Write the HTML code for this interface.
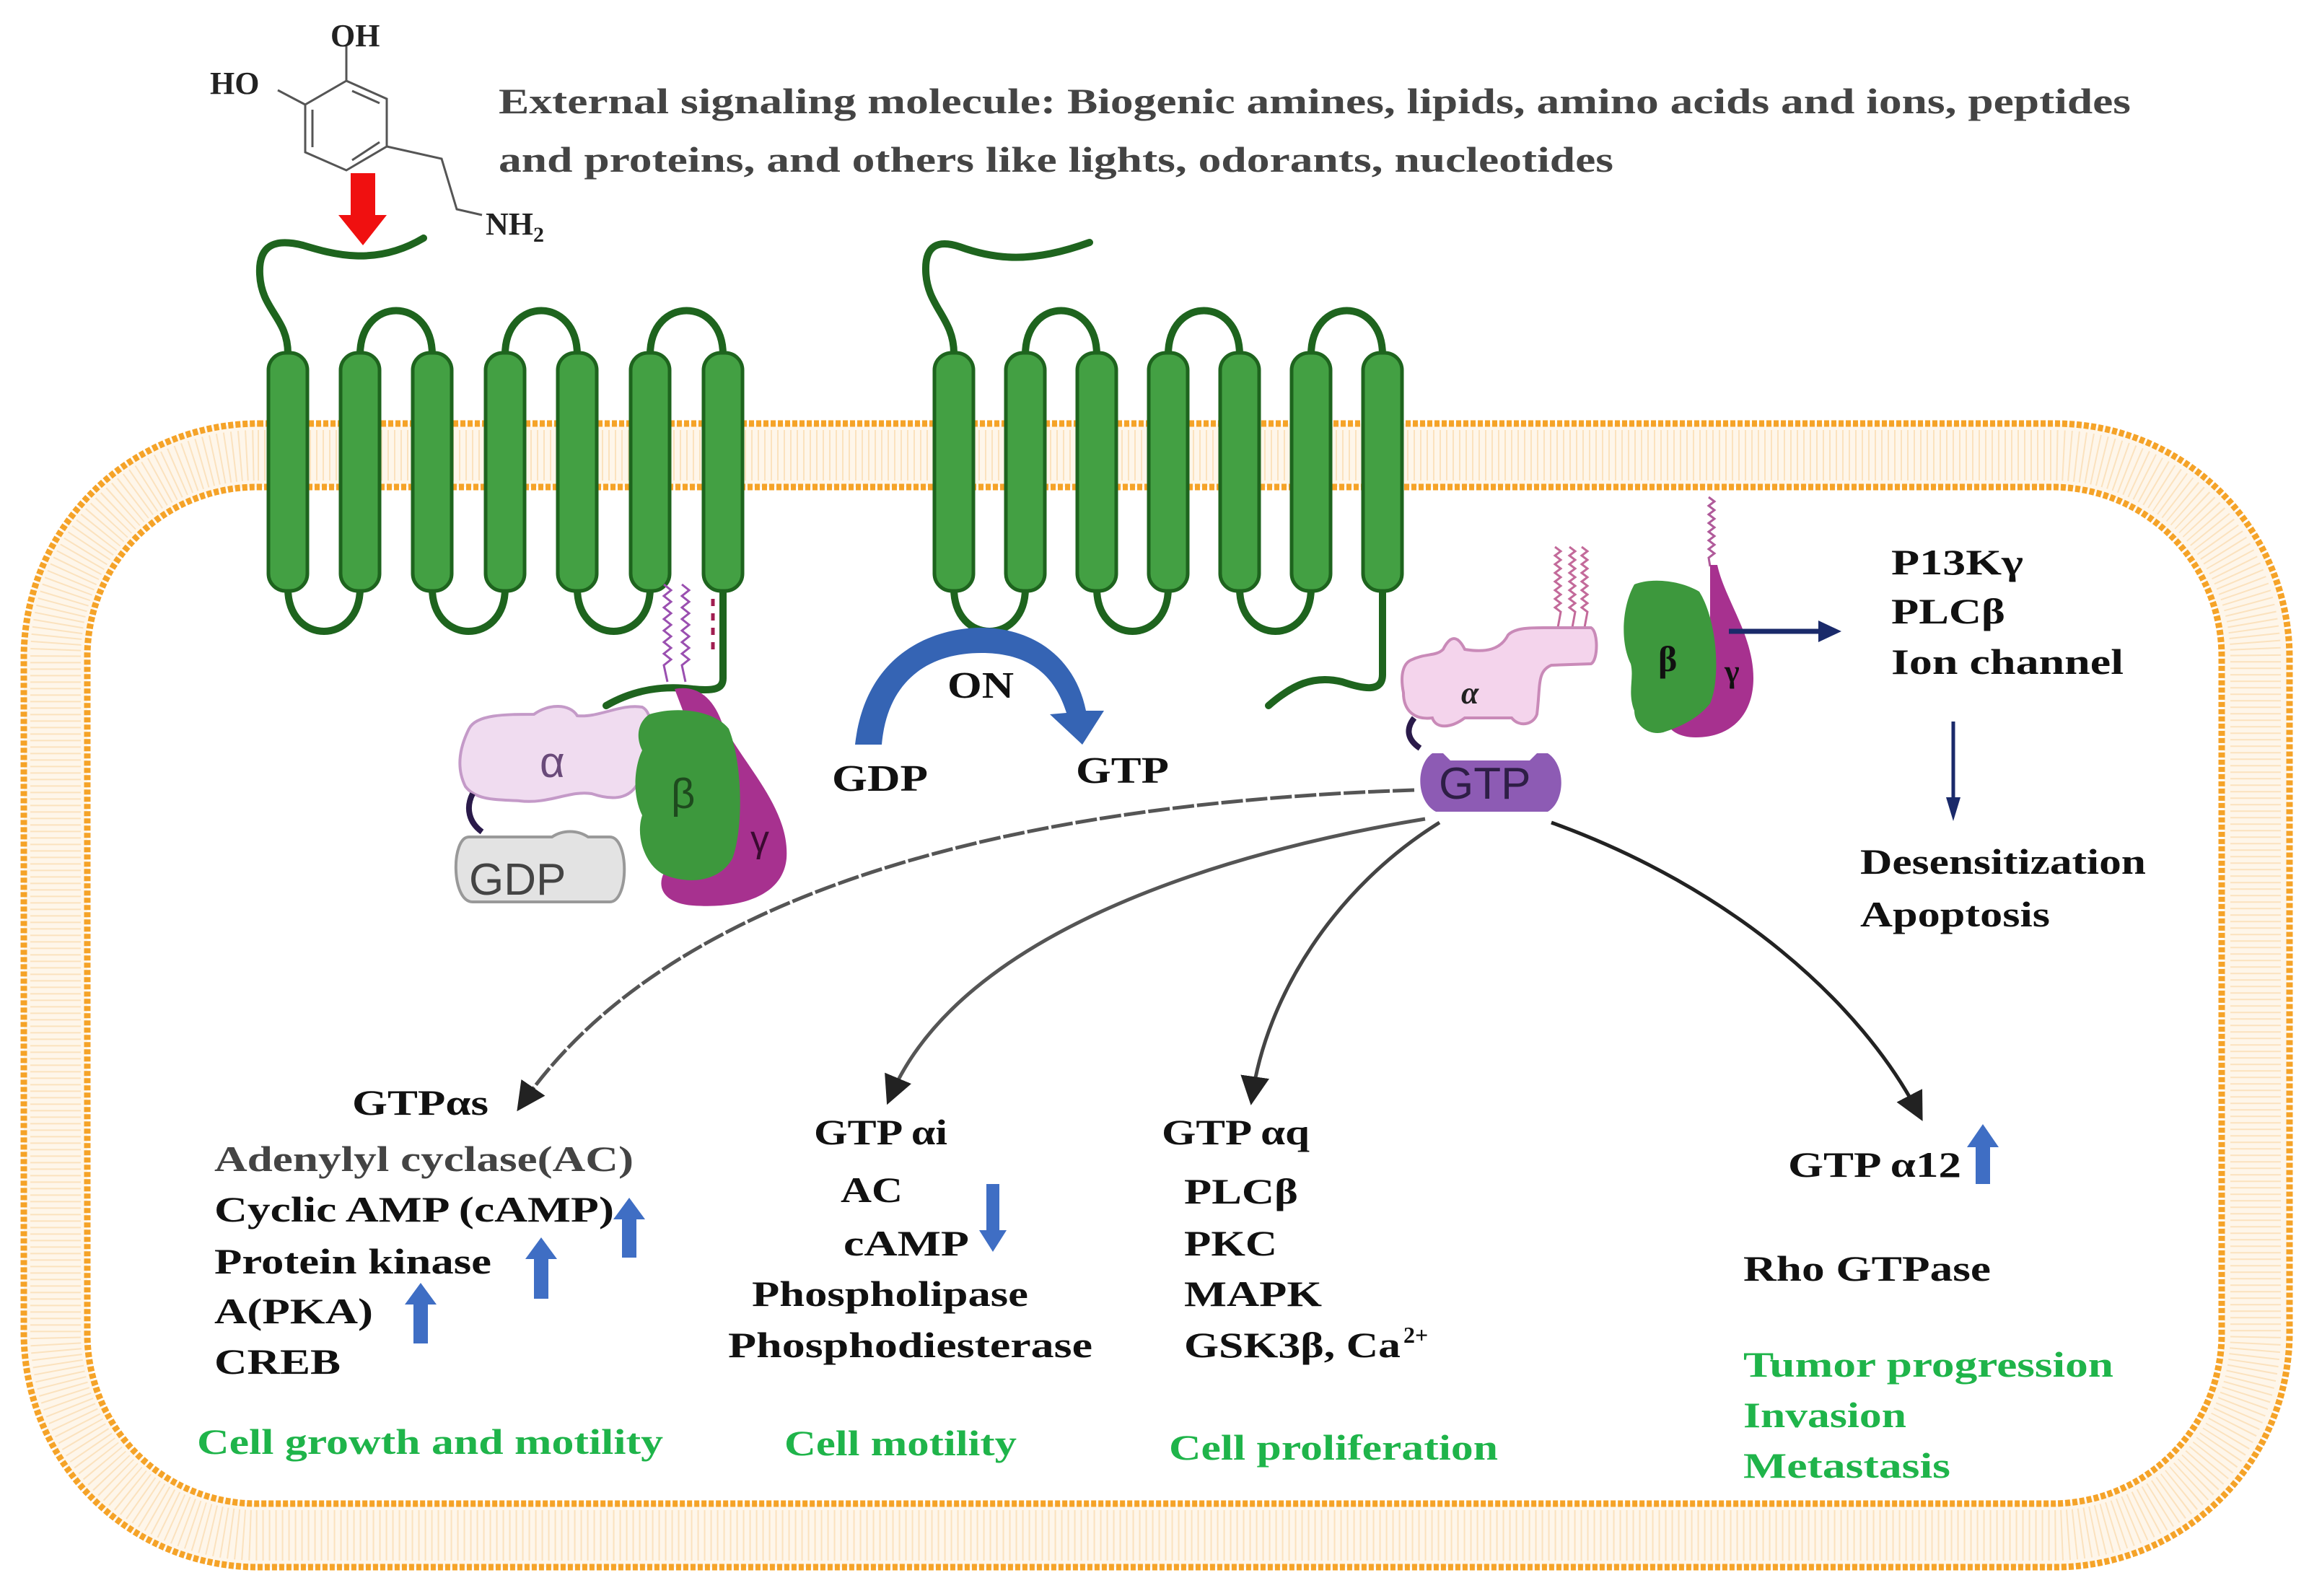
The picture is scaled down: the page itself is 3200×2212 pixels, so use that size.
<!DOCTYPE html>
<html><head><meta charset="utf-8"><style>
html,body{margin:0;padding:0;background:#fff}
svg{display:block}
text{font-family:"Liberation Serif",serif;font-weight:bold}
</style></head><body>
<svg width="3200" height="2212" viewBox="0 0 3200 2212" xmlns="http://www.w3.org/2000/svg">
<defs>
<marker id="ah" markerWidth="8" markerHeight="8" refX="6" refY="4" orient="auto" markerUnits="strokeWidth"><path d="M0,0 L8,4 L0,8 Z" fill="#222"/></marker>
</defs>
<!-- membrane -->
<rect x="77" y="631" width="3049" height="1497" rx="280" fill="none" stroke="#fef6ea" stroke-width="88"/>
<rect x="77" y="631" width="3049" height="1497" rx="280" fill="none" stroke="#f8c98a" stroke-width="70" stroke-dasharray="2 7" opacity="0.45"/>
<rect x="33" y="587" width="3140" height="1585" rx="325" fill="none" stroke="#f5a328" stroke-width="9" stroke-dasharray="7 3"/>
<rect x="121" y="675" width="2958" height="1409" rx="235" fill="none" stroke="#f5a328" stroke-width="9" stroke-dasharray="7 3"/>

<!-- dopamine -->
<g stroke="#555" stroke-width="3" fill="none">
<path d="M480,112 L536,137 L536,203 L480,236 L423,211 L423,145 Z"/>
<path d="M488,126 L526,143 M526,197 L488,222 M433,152 L433,204"/>
<path d="M480,112 L480,62 M423,145 L385,125 M536,203 L612,220 L633,290 L668,298"/>
</g>
<text x="458" y="64" font-size="44" fill="#222">OH</text>
<text x="291" y="130" font-size="44" fill="#222">HO</text>
<text x="673" y="325" font-size="44" fill="#222">NH<tspan font-size="30" dy="10">2</tspan></text>
<!-- red arrow -->
<path d="M486,240 L520,240 L520,298 L536,298 L503,340 L469,298 L486,298 Z" fill="#f01010"/>

<!-- header -->
<text x="691" y="157" font-size="50" fill="#444" textLength="2262" lengthAdjust="spacingAndGlyphs">External signaling molecule: Biogenic amines, lipids, amino acids and ions, peptides</text>
<text x="691" y="238" font-size="50" fill="#444" textLength="1545" lengthAdjust="spacingAndGlyphs">and proteins, and others like lights, odorants, nucleotides</text>

<!-- receptor 1 -->
<g fill="none" stroke="#1e641e" stroke-width="10" stroke-linecap="round">
<path d="M399,490 C399,440 362,430 360,380 C358,340 380,330 420,340 C460,352 520,370 587,330"/>
<path d="M499,492 C499,410 599,410 599,492"/>
<path d="M700,492 C700,410 800,410 800,492"/>
<path d="M901,492 C901,410 1002,410 1002,492"/>
<path d="M399,815 C399,895 499,895 499,815"/>
<path d="M599,815 C599,895 700,895 700,815"/>
<path d="M800,815 C800,895 901,895 901,815"/>
<path d="M1002,815 L1002,940 C1002,955 990,958 960,955 C920,950 880,955 840,978"/>
<!-- receptor 2 -->
<path d="M1322,490 C1322,440 1284,425 1283,375 C1282,340 1300,332 1330,342 C1380,360 1430,365 1510,336"/>
<path d="M1421,492 C1421,410 1520,410 1520,492"/>
<path d="M1619,492 C1619,410 1718,410 1718,492"/>
<path d="M1817,492 C1817,410 1916,410 1916,492"/>
<path d="M1322,815 C1322,895 1421,895 1421,815"/>
<path d="M1520,815 C1520,895 1619,895 1619,815"/>
<path d="M1718,815 C1718,895 1817,895 1817,815"/>
<path d="M1916,815 L1916,935 C1916,960 1890,955 1860,945 C1820,935 1790,950 1758,978"/>
</g>
<g fill="#43a043" stroke="#1e641e" stroke-width="5">
<rect x="372" y="489" width="54" height="330" rx="24"/>
<rect x="472" y="489" width="54" height="330" rx="24"/>
<rect x="572" y="489" width="54" height="330" rx="24"/>
<rect x="673" y="489" width="54" height="330" rx="24"/>
<rect x="773" y="489" width="54" height="330" rx="24"/>
<rect x="874" y="489" width="54" height="330" rx="24"/>
<rect x="975" y="489" width="54" height="330" rx="24"/>
<rect x="1295" y="489" width="54" height="330" rx="24"/>
<rect x="1394" y="489" width="54" height="330" rx="24"/>
<rect x="1493" y="489" width="54" height="330" rx="24"/>
<rect x="1592" y="489" width="54" height="330" rx="24"/>
<rect x="1691" y="489" width="54" height="330" rx="24"/>
<rect x="1790" y="489" width="54" height="330" rx="24"/>
<rect x="1889" y="489" width="54" height="330" rx="24"/>
</g>

<!-- G protein complex 1 -->
<g fill="none" stroke-width="3">
<path d="M920,810 l10,8 l-10,8 l10,8 l-10,8 l10,8 l-10,8 l10,8 l-10,8 l10,8 l-10,8 l10,8 l-10,8 l10,8 l-10,8 L925,945" stroke="#9a4fb0"/>
<path d="M945,810 l10,8 l-10,8 l10,8 l-10,8 l10,8 l-10,8 l10,8 l-10,8 l10,8 l-10,8 l10,8 l-10,8 l10,8 l-10,8 L950,945" stroke="#9a4fb0"/>
<path d="M988,830 l0,10 M988,850 l0,10 M988,870 l0,10 M988,890 l0,10" stroke="#a01e50" stroke-width="5"/>
</g>
<path d="M650,1010 C660,990 700,990 740,990 C760,975 790,975 800,992 C830,995 860,975 890,980 C910,990 900,1040 890,1070 C880,1110 850,1110 820,1100 C790,1095 760,1115 720,1110 C690,1108 660,1110 645,1090 C630,1060 640,1030 650,1010 Z" fill="#f0dcf0" stroke="#c49ac8" stroke-width="4"/>
<text x="748" y="1077" font-size="60" fill="#6a4a7a" style="font-family:'Liberation Sans',sans-serif;font-weight:normal">α</text>
<path d="M655,1100 C645,1120 650,1140 668,1153" stroke="#2a1a4a" stroke-width="8" fill="none"/>
<path d="M650,1160 L765,1160 C780,1150 800,1150 815,1160 L845,1160 C872,1160 872,1250 845,1250 L655,1250 C625,1250 625,1160 650,1160 Z" fill="#e3e3e3" stroke="#999" stroke-width="4"/>
<text x="650" y="1240" font-size="62" fill="#444" style="font-family:'Liberation Sans',sans-serif;font-weight:normal">GDP</text>
<path d="M935,955 C960,950 985,960 1000,1000 C1030,1060 1095,1120 1090,1190 C1085,1240 1030,1260 960,1255 C920,1252 910,1230 920,1210 C960,1200 1000,1170 990,1100 Z" fill="#a7318f"/>
<path d="M900,990 C940,978 990,985 1010,1010 C1030,1060 1030,1150 1015,1190 C995,1225 950,1225 920,1212 C895,1200 880,1160 890,1130 C875,1100 880,1060 890,1040 C880,1020 885,1000 900,990 Z" fill="#3d983d"/>
<text x="930" y="1120" font-size="58" fill="#1e4a1e" style="font-family:'Liberation Sans',sans-serif;font-weight:normal">β</text>
<text x="1040" y="1180" font-size="52" fill="#3a0a30" style="font-family:'Liberation Sans',sans-serif;font-weight:normal">γ</text>

<!-- ON arrow -->
<path d="M1185,1032 C1200,900 1300,870 1360,870 C1430,870 1490,910 1505,985 L1530,985 L1500,1032 L1455,990 L1478,988 C1460,930 1420,905 1360,905 C1290,905 1230,940 1222,1032 Z" fill="#3564b4"/>
<text x="1313" y="967" font-size="52" fill="#111" textLength="92" lengthAdjust="spacingAndGlyphs">ON</text>
<text x="1153" y="1096" font-size="52" fill="#111" textLength="133" lengthAdjust="spacingAndGlyphs">GDP</text>
<text x="1491" y="1085" font-size="52" fill="#111" textLength="129" lengthAdjust="spacingAndGlyphs">GTP</text>

<!-- right G alpha -->
<g fill="none" stroke="#c36a9a" stroke-width="3">
<path d="M2155,758 l8,6 l-8,6 l8,6 l-8,6 l8,6 l-8,6 l8,6 l-8,6 l8,6 l-8,6 l8,6 l-8,6 l8,6 l-8,6 l8,6 L2158,875"/>
<path d="M2175,758 l8,6 l-8,6 l8,6 l-8,6 l8,6 l-8,6 l8,6 l-8,6 l8,6 l-8,6 l8,6 l-8,6 l8,6 l-8,6 l8,6 L2178,875"/>
<path d="M2192,758 l8,6 l-8,6 l8,6 l-8,6 l8,6 l-8,6 l8,6 l-8,6 l8,6 l-8,6 l8,6 l-8,6 l8,6 l-8,6 l8,6 L2195,875"/>
</g>
<path d="M1955,915 C1975,905 1990,910 2000,900 C2010,880 2020,880 2030,900 C2060,905 2080,900 2090,880 C2100,870 2120,870 2140,870 L2205,870 C2215,875 2215,915 2205,920 L2150,922 C2130,930 2135,950 2130,990 C2125,1005 2105,1008 2095,995 L2030,995 C2010,1010 1990,1010 1985,995 C1960,998 1945,985 1945,960 C1940,935 1945,920 1955,915 Z" fill="#f4d4ec" stroke="#c98ab8" stroke-width="4"/>
<text x="2025" y="975" font-size="44" fill="#222" font-style="italic">α</text>
<path d="M1960,995 C1948,1010 1950,1025 1968,1037" stroke="#2a1a4a" stroke-width="8" fill="none"/>
<path d="M1985,1044 L2000,1044 L2010,1054 L2120,1054 L2130,1044 L2145,1044 C2170,1060 2170,1110 2145,1125 L1990,1125 C1962,1110 1962,1060 1985,1044 Z" fill="#8d5bb4"/>
<text x="1994" y="1107" font-size="62" fill="#2e1e46" style="font-family:'Liberation Sans',sans-serif;font-weight:normal">GTP</text>
<path d="M2368,689 l8,6 l-8,6 l8,6 l-8,6 l8,6 l-8,6 l8,6 l-8,6 l8,6 l-8,6 l8,6 l-8,6 l8,6 l-8,6 L2370,785" stroke="#b05a9a" stroke-width="3" fill="none"/>
<path d="M2370,783 L2380,783 C2390,830 2430,880 2430,940 C2430,990 2400,1022 2350,1022 C2320,1022 2305,1005 2310,990 C2360,970 2375,940 2370,880 Z" fill="#a7318f"/>
<path d="M2265,810 C2290,800 2330,805 2355,820 C2380,860 2385,940 2370,975 C2350,1000 2320,1010 2305,1015 C2285,1020 2265,1005 2265,985 C2255,960 2265,940 2260,920 C2245,890 2248,840 2265,810 Z" fill="#3d983d"/>
<text x="2298" y="930" font-size="50" fill="#111">β</text>
<text x="2390" y="945" font-size="44" fill="#111">γ</text>
<!-- navy arrows -->
<path d="M2396,875 L2530,875" stroke="#1a2a6a" stroke-width="7"/>
<path d="M2520,860 L2552,875 L2520,890 Z" fill="#1a2a6a"/>
<path d="M2707,1000 L2707,1115" stroke="#1a2a6a" stroke-width="5"/>
<path d="M2697,1105 L2707,1138 L2717,1105 Z" fill="#1a2a6a"/>
<text x="2621" y="796" font-size="50" fill="#111" textLength="183" lengthAdjust="spacingAndGlyphs">P13Kγ</text>
<text x="2621" y="864" font-size="50" fill="#111" textLength="158" lengthAdjust="spacingAndGlyphs">PLCβ</text>
<text x="2621" y="934" font-size="50" fill="#111" textLength="322" lengthAdjust="spacingAndGlyphs">Ion channel</text>
<text x="2578" y="1211" font-size="50" fill="#111" textLength="396" lengthAdjust="spacingAndGlyphs">Desensitization</text>
<text x="2578" y="1284" font-size="50" fill="#111" textLength="263" lengthAdjust="spacingAndGlyphs">Apoptosis</text>

<!-- connectors -->
<g fill="none" stroke="#333" stroke-width="5" marker-end="url(#ah)">
<path d="M1960,1095 C1500,1110 950,1200 722,1532" stroke="#555" stroke-dasharray="30 4"/>
<path d="M1975,1135 C1700,1180 1330,1290 1233,1522" stroke="#555"/>
<path d="M1995,1140 C1850,1230 1755,1380 1735,1522" stroke="#444"/>
<path d="M2150,1140 C2400,1230 2580,1390 2660,1545" stroke="#222"/>
</g>

<!-- bottom texts -->
<g font-size="50" fill="#111">
<text x="488" y="1545" textLength="189" lengthAdjust="spacingAndGlyphs">GTPαs</text>
<text x="297" y="1623" fill="#444" textLength="581" lengthAdjust="spacingAndGlyphs">Adenylyl cyclase(AC)</text>
<text x="297" y="1693" textLength="554" lengthAdjust="spacingAndGlyphs">Cyclic AMP (cAMP)</text>
<text x="297" y="1765" textLength="384" lengthAdjust="spacingAndGlyphs">Protein kinase</text>
<text x="297" y="1834" textLength="220" lengthAdjust="spacingAndGlyphs">A(PKA)</text>
<text x="297" y="1904" textLength="175" lengthAdjust="spacingAndGlyphs">CREB</text>
<text x="273" y="2015" fill="#1fb44a" textLength="646" lengthAdjust="spacingAndGlyphs">Cell growth and motility</text>
<text x="1128" y="1586" textLength="185" lengthAdjust="spacingAndGlyphs">GTP αi</text>
<text x="1165" y="1666" textLength="86" lengthAdjust="spacingAndGlyphs">AC</text>
<text x="1169" y="1740" textLength="174" lengthAdjust="spacingAndGlyphs">cAMP</text>
<text x="1042" y="1810" textLength="383" lengthAdjust="spacingAndGlyphs">Phospholipase</text>
<text x="1009" y="1881" textLength="505" lengthAdjust="spacingAndGlyphs">Phosphodiesterase</text>
<text x="1087" y="2017" fill="#1fb44a" textLength="322" lengthAdjust="spacingAndGlyphs">Cell motility</text>
<text x="1610" y="1586" textLength="205" lengthAdjust="spacingAndGlyphs">GTP αq</text>
<text x="1641" y="1668" textLength="158" lengthAdjust="spacingAndGlyphs">PLCβ</text>
<text x="1641" y="1740" textLength="129" lengthAdjust="spacingAndGlyphs">PKC</text>
<text x="1641" y="1810" textLength="191" lengthAdjust="spacingAndGlyphs">MAPK</text>
<text x="1641" y="1881" textLength="300" lengthAdjust="spacingAndGlyphs">GSK3β, Ca</text>
<text x="1945" y="1861" font-size="32">2+</text>
<text x="1620" y="2023" fill="#1fb44a" textLength="456" lengthAdjust="spacingAndGlyphs">Cell proliferation</text>
<text x="2478" y="1631" textLength="240" lengthAdjust="spacingAndGlyphs">GTP α12</text>
<text x="2416" y="1775" textLength="343" lengthAdjust="spacingAndGlyphs">Rho GTPase</text>
<text x="2416" y="1908" fill="#1fb44a" textLength="513" lengthAdjust="spacingAndGlyphs">Tumor progression</text>
<text x="2416" y="1978" fill="#1fb44a" textLength="226" lengthAdjust="spacingAndGlyphs">Invasion</text>
<text x="2416" y="2048" fill="#1fb44a" textLength="287" lengthAdjust="spacingAndGlyphs">Metastasis</text>
</g>
<!-- blue up/down arrows -->
<g fill="#3f6ec4">
<path d="M862,1743 L882,1743 L882,1690 L894,1690 L872,1660 L850,1690 L862,1690 Z"/>
<path d="M740,1800 L760,1800 L760,1745 L772,1745 L750,1715 L728,1745 L740,1745 Z"/>
<path d="M573,1862 L593,1862 L593,1808 L605,1808 L583,1778 L561,1808 L573,1808 Z"/>
<path d="M1367,1641 L1385,1641 L1385,1705 L1395,1705 L1376,1735 L1357,1705 L1367,1705 Z"/>
<path d="M2738,1641 L2758,1641 L2758,1590 L2770,1590 L2748,1558 L2726,1590 L2738,1590 Z"/>
</g>
</svg>
</body></html>
